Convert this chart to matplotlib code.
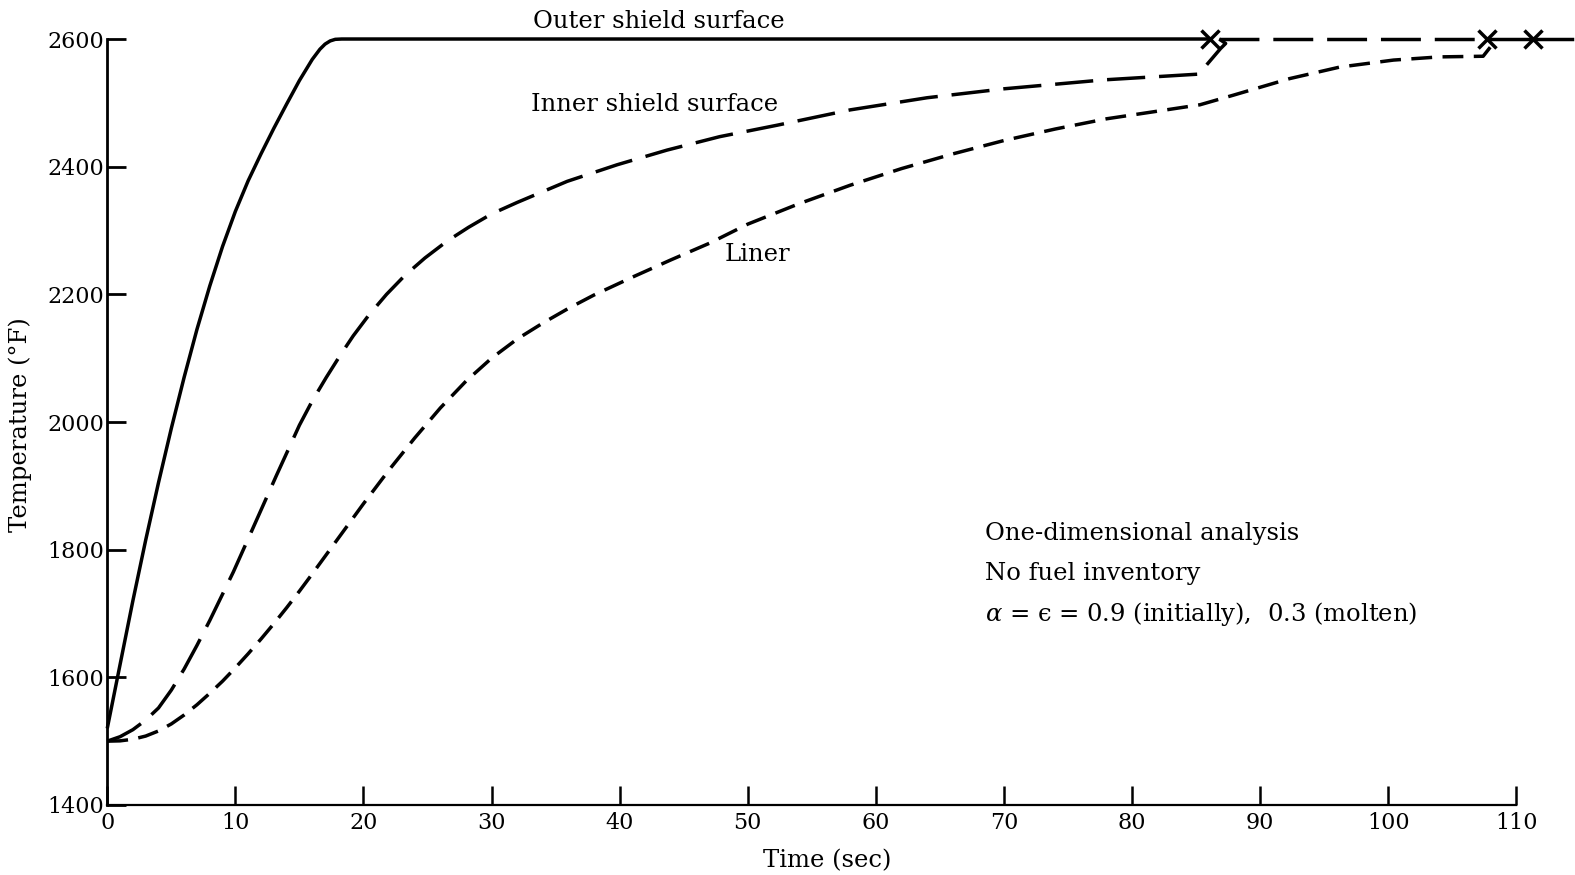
import numpy as np
import matplotlib.pyplot as plt

plt.rcParams['font.family'] = ['DejaVu Serif', 'DejaVu Sans']
plt.rcParams['mathtext.fontset'] = 'dejavuserif'

# outer shield surface, climbs to the 2600 F melt plateau
t_outer = [0, 1, 2, 3, 4, 5, 6, 7, 8, 9, 10, 11, 12, 13, 14, 15, 16,
           16.6, 17.0, 17.4, 17.8, 18.3, 86.1]
T_outer = [1520, 1620, 1720, 1815, 1905, 1990, 2070, 2145, 2213, 2275, 2330, 2378,
           2420, 2460, 2498, 2535, 2568, 2584, 2592, 2597, 2599.5, 2600, 2600]

# inner shield surface
t_inner = [0, 1, 2, 3, 4, 5, 6, 7, 8, 9.84, 11.4, 13.2, 15.0, 16.0, 17.1, 18.2,
           19.2, 20.4, 21.8, 23.2, 24.8, 26.5, 28.2, 30.0, 32.0, 35.9, 39.8, 43.7,
           47.8, 52.3, 58.0, 64.0, 70.0, 77.8, 85.2, 86.9, 87.3, 86.8]
T_inner = [1500, 1507, 1518, 1533, 1552, 1580, 1613, 1650, 1689, 1765, 1835, 1916,
           1995, 2033, 2070, 2105, 2135, 2167, 2200, 2229, 2257, 2283, 2305, 2326,
           2344, 2377, 2403, 2426, 2447, 2465, 2489, 2508, 2522, 2536, 2545, 2585,
           2593, 2600]
t_inner_melt = [86.8, 107.7]
T_inner_melt = [2600, 2600]

# liner
t_liner = [0, 1, 2, 3, 4, 5, 6, 7, 8, 9, 10, 11, 12, 13, 14, 15, 16, 18, 20, 22,
           24, 26, 28, 30, 32, 34, 36, 38, 41, 44, 47, 50, 54, 58, 62, 66, 70, 74,
           78, 82, 85.3, 87.9, 92.3, 96.2, 100.4, 104.0, 107.4, 108.3]
T_liner = [1500, 1500.5, 1503, 1508, 1516, 1527, 1541, 1557, 1575, 1594, 1615, 1637,
           1660, 1684, 1709, 1735, 1762, 1817, 1872, 1925, 1975, 2022, 2064, 2100,
           2130, 2155, 2178, 2199, 2227, 2254, 2280, 2310, 2342, 2371, 2397, 2420,
           2441, 2459, 2475, 2487, 2497, 2512, 2538, 2556, 2567, 2572, 2573, 2596]
t_liner_melt = [107.7, 114.3]
T_liner_melt = [2600, 2600]

# melt points
t_melt = [86.1, 107.7, 111.3]
T_melt = [2600, 2600, 2600]

yticks = [1400, 1600, 1800, 2000, 2200, 2400, 2600]
xticks = [0, 10, 20, 30, 40, 50, 60, 70, 80, 90, 100, 110]

fig = plt.figure(figsize=(15.75, 8.75), dpi=100)
ax = fig.add_axes([0.0681, 0.08, 0.9297, 0.8973])

lw = 2.5
ax.plot(t_outer, T_outer, color='black', lw=lw, solid_capstyle='butt', clip_on=False)
ax.plot(t_inner, T_inner, color='black', lw=lw, dashes=(11, 4), clip_on=False)
ax.plot(t_inner_melt, T_inner_melt, color='black', lw=lw, dashes=(11.5, 4), clip_on=False)
ax.plot(t_liner, T_liner, color='black', lw=lw, dashes=(6, 3), clip_on=False)
ax.plot(t_liner_melt, T_liner_melt, color='black', lw=lw, clip_on=False)
ax.plot(t_melt, T_melt, ls='none', marker='x', ms=13, mew=2.5, color='black', clip_on=False)

ax.set_xlim(0, 114.3)
ax.set_ylim(1400, 2630)
ax.spines['top'].set_visible(False)
ax.spines['right'].set_visible(False)
ax.spines['left'].set_bounds(1400, 2600)
ax.spines['bottom'].set_bounds(0, 110)
ax.spines['left'].set_linewidth(2.0)
ax.spines['bottom'].set_linewidth(1.6)

ax.set_xticks(xticks)
ax.set_yticks(yticks)
ax.tick_params(axis='y', direction='in', length=14, width=2.0, pad=2, labelsize=16)
ax.tick_params(axis='x', direction='in', length=14, width=1.8, pad=5, labelsize=16)

fs = 17.5
ax.set_xlabel('Time (sec)', fontsize=fs)
ax.xaxis.set_label_coords(0.492, -0.056)
ax.set_ylabel('Temperature (°F)', fontsize=fs)
ax.yaxis.set_label_coords(-0.0514, 0.484)

ax.text(33.2, 2628, 'Outer shield surface', fontsize=fs, ha='left', va='center')
ax.text(33.1, 2497, 'Inner shield surface', fontsize=fs, ha='left', va='center')
ax.text(48.2, 2262, 'Liner', fontsize=fs, ha='left', va='center')

ax.text(68.5, 1826, 'One-dimensional analysis', fontsize=fs, ha='left', va='center')
ax.text(68.5, 1762, 'No fuel inventory', fontsize=fs, ha='left', va='center')
ax.text(68.5, 1699, r'$\alpha$ = ϵ = 0.9 (initially),  0.3 (molten)',
        fontsize=fs, ha='left', va='center')

fig.savefig('out.png', dpi=100)
